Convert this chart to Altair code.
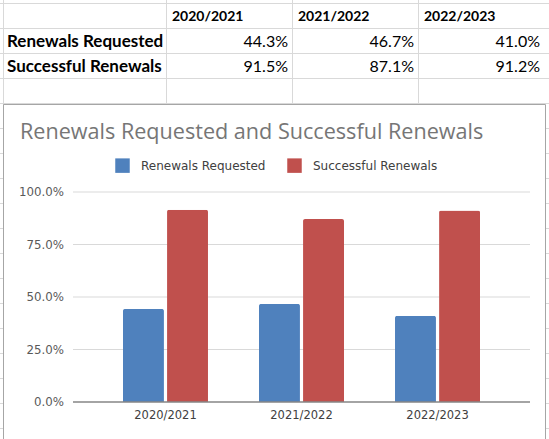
import altair as alt
import pandas as pd

# ---- data -------------------------------------------------------------
years = ["2020/2021", "2021/2022", "2022/2023"]
series = ["Renewals Requested", "Successful Renewals"]
renewals_requested = [0.443, 0.467, 0.410]
successful_renewals = [0.915, 0.871, 0.912]
y_ticks = [0.0, 0.25, 0.5, 0.75, 1.0]
title_text = "Renewals Requested and Successful Renewals"

colors = ["#4f81bd", "#c0504d"]

W, H = 549, 439

bars_df = pd.DataFrame(
    [{"year": y, "series": s, "value": v}
     for s, vals in zip(series, [renewals_requested, successful_renewals])
     for y, v in zip(years, vals)]
)
table_df = pd.DataFrame(
    [{"row": s, "col": y, "text": f"{v * 100:.1f}%"}
     for s, vals in zip(series, [renewals_requested, successful_renewals])
     for y, v in zip(years, vals)]
)
header_df = pd.DataFrame({"row": [""] * len(years), "col": years, "text": years})
row_df = pd.DataFrame({"row": series})
ticks_df = pd.DataFrame({"v": y_ticks})
years_df = pd.DataFrame({"year": years})

TABLE_FONT = "Lato"
AXIS_FONT = "DejaVu Sans"

# ---- spreadsheet backdrop --------------------------------------------
sheet_layers = []
for k in range(18):
    yk = 3 + 25 * k
    sheet_layers.append(
        alt.Chart().mark_rule(color="#d9d9d9", strokeWidth=1).encode(
            x=alt.value(0), x2=alt.value(W), y=alt.value(yk + 0.5)
        )
    )
for xk in [3, 166, 292, 418]:
    sheet_layers.append(
        alt.Chart().mark_rule(color="#d9d9d9", strokeWidth=1).encode(
            x=alt.value(xk + 0.5), y=alt.value(0), y2=alt.value(H)
        )
    )

# ---- table cells --------------------------------------------------------
tx = alt.X("col:N", scale=alt.Scale(type="point", domain=years, range=[166, 418], padding=0), axis=None)
ty = alt.Y("row:N", scale=alt.Scale(type="point", domain=[""] + series, range=[16.5, 66.5], padding=0), axis=None)

header_txt = alt.Chart(header_df).mark_text(
    align="left", baseline="middle", dx=6, font=TABLE_FONT, fontSize=14, fontWeight="bold", color="#000000"
).encode(x=tx, y=ty, text="text:N")

value_txt = alt.Chart(table_df).mark_text(
    align="right", baseline="middle", dx=122, font=TABLE_FONT, fontSize=16, color="#000000"
).encode(x=tx, y=ty, text="text:N")

label_txt = alt.Chart(row_df).mark_text(
    align="left", baseline="middle", font=TABLE_FONT, fontSize=17, fontWeight="bold", color="#000000"
).encode(x=alt.value(7), y=ty, text="row:N")

table = alt.layer(header_txt, value_txt, label_txt)

# ---- chart frame & title ---------------------------------------------
frame = alt.Chart().mark_rect(fill="white", stroke="#a6a6a6", strokeWidth=1).encode(
    x=alt.value(3.5), x2=alt.value(545.5), y=alt.value(104.5), y2=alt.value(H + 5)
)
title = alt.Chart().mark_text(
    align="left", baseline="middle", font="Open Sans", fontSize=21.6, color="#767676"
).encode(x=alt.value(20), y=alt.value(133), text=alt.value(title_text))

# ---- bar chart --------------------------------------------------------
bx = alt.X("year:N", scale=alt.Scale(domain=years, range=[73, 530], paddingInner=0.375, paddingOuter=0.3675), axis=None)
by_scale = alt.Scale(domain=[0, 1], range=[402, 192], nice=False, zero=True)

grid = alt.Chart(ticks_df).transform_filter("datum.v > 0").mark_rule(color="#d9d9d9", strokeWidth=1).encode(
    y=alt.Y("v:Q", scale=by_scale, axis=None), x=alt.value(73), x2=alt.value(530)
)
bars = alt.Chart(bars_df).mark_bar(
    cornerRadiusTopLeft=2, cornerRadiusTopRight=2
).encode(
    x=bx,
    xOffset=alt.XOffset("series:N", scale=alt.Scale(domain=series, paddingInner=0.07)),
    y=alt.Y("value:Q", scale=by_scale, axis=None),
    color=alt.Color(
        "series:N",
        scale=alt.Scale(domain=series, range=colors),
        legend=alt.Legend(
            title=None, orient="none", legendX=115, legendY=158, direction="horizontal",
            symbolType="square", symbolSize=210, symbolStrokeWidth=0, symbolOpacity=1,
            labelFont=AXIS_FONT, labelFontSize=12, labelColor="#404040",
            labelOffset=11, columnPadding=21,
        ),
    ),
)
baseline = alt.Chart(ticks_df).transform_filter("datum.v == 0").mark_rule(color="#868686", strokeWidth=1.5).encode(
    y=alt.Y("v:Q", scale=by_scale, axis=None), x=alt.value(73), x2=alt.value(530)
)
ylabels = alt.Chart(ticks_df).mark_text(
    align="right", baseline="middle", font=AXIS_FONT, fontSize=11.8, color="#595959"
).encode(
    y=alt.Y("v:Q", scale=by_scale, axis=None), x=alt.value(64), text=alt.Text("v:Q", format=".1%")
)
xlabels = alt.Chart(years_df).mark_text(
    align="center", baseline="middle", font=AXIS_FONT, fontSize=11.5, color="#404040"
).encode(x=bx, y=alt.value(416), text="year:N")

barchart = alt.layer(grid, bars, baseline, ylabels, xlabels)

chart = alt.layer(
    *sheet_layers, table, frame, title, barchart
).resolve_scale(
    x="independent", y="independent"
).properties(
    width=W, height=H, padding=0, autosize="none", background="white"
).configure_view(stroke=None)

chart.save("out.html", embed_options={"renderer": "svg", "actions": False})
